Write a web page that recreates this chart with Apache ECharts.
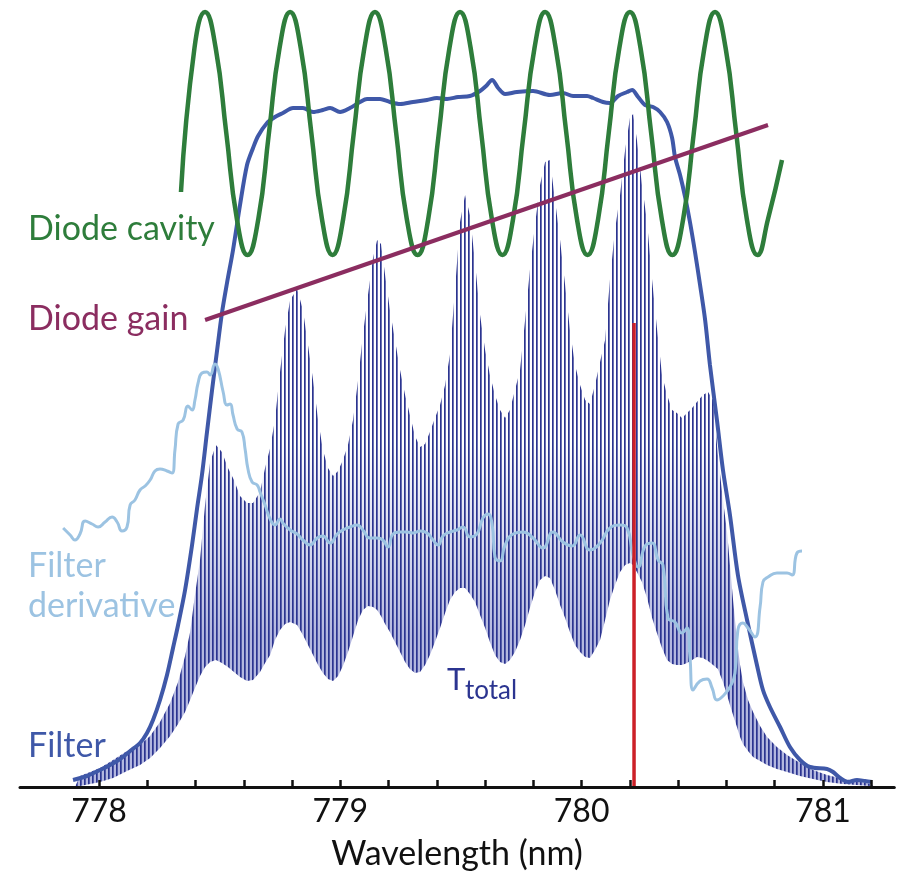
<!DOCTYPE html>
<html>
<head>
<meta charset="utf-8">
<title>Filter transmission vs wavelength</title>
<script src="https://cdn.jsdelivr.net/npm/echarts@6.0.0/dist/echarts.min.js"></script>
<style>
  html, body { margin: 0; padding: 0; background: #fff; }
  #chart { width: 905px; height: 884px; }
</style>
</head>
<body>
<div id="chart"></div>
<script>
// wavelength in nm, heights in arbitrary units above the axis

// T_total fringes: peak envelope and trough envelope
const ttWave = [777.900, 777.921, 777.963, 778.004, 778.058, 778.116, 778.170, 778.212, 778.253, 778.295,
  778.328, 778.357, 778.378, 778.398, 778.419, 778.440, 778.461, 778.485, 778.510, 778.535,
  778.560, 778.585, 778.614, 778.639, 778.668, 778.689, 778.710, 778.730, 778.751, 778.772,
  778.793, 778.822, 778.846, 778.867, 778.888, 778.909, 778.929, 778.950, 778.971, 778.992,
  779.012, 779.033, 779.054, 779.075, 779.095, 779.116, 779.137, 779.154, 779.170, 779.187,
  779.207, 779.228, 779.249, 779.270, 779.290, 779.311, 779.332, 779.353, 779.373, 779.394,
  779.415, 779.436, 779.456, 779.477, 779.498, 779.519, 779.539, 779.560, 779.581, 779.602,
  779.622, 779.643, 779.664, 779.685, 779.705, 779.726, 779.747, 779.768, 779.788, 779.809,
  779.830, 779.851, 779.871, 779.892, 779.913, 779.934, 779.954, 779.975, 779.996, 780.017,
  780.037, 780.058, 780.079, 780.100, 780.120, 780.141, 780.162, 780.183, 780.203, 780.216,
  780.232, 780.253, 780.274, 780.295, 780.315, 780.336, 780.357, 780.378, 780.398, 780.419,
  780.440, 780.461, 780.481, 780.506, 780.527, 780.548, 780.568, 780.589, 780.606, 780.618,
  780.631, 780.647, 780.660, 780.672, 780.693, 780.714, 780.743, 780.772, 780.813, 780.855,
  780.909, 780.963, 781.021, 781.087, 781.145, 781.199, 781.220];
const ttUpper = [0, 11, 15, 19, 27, 36, 42, 51, 65, 84,
  105, 131, 155, 192, 227, 282, 325, 342, 335, 319,
  307, 291, 284, 284, 295, 319, 339, 367, 415, 457,
  487, 498, 477, 442, 407, 367, 337, 319, 311, 316,
  327, 342, 367, 407, 452, 492, 529, 547, 543, 512,
  477, 447, 417, 392, 372, 351, 340, 343, 355, 369,
  382, 402, 432, 497, 565, 592, 572, 525, 472, 437,
  412, 392, 377, 369, 377, 397, 417, 467, 517, 562,
  602, 625, 627, 587, 547, 502, 457, 422, 402, 387,
  383, 402, 425, 447, 507, 557, 592, 637, 669, 673,
  647, 602, 565, 507, 459, 412, 392, 377, 374, 369,
  374, 379, 385, 392, 395, 387, 332, 287, 255, 222,
  187, 147, 122, 105, 87, 75, 61, 50, 40, 32,
  24, 17, 12, 8, 6, 3, 0];
const ttLower = [0, 1, 3, 5, 9, 16, 22, 29, 39, 51,
  63, 75, 87, 99, 111, 120, 125, 127, 124, 120,
  115, 110, 106, 107, 115, 124, 132, 147, 157, 163,
  165, 162, 152, 142, 132, 122, 114, 108, 106, 111,
  121, 135, 151, 167, 177, 181, 180, 177, 171, 163,
  155, 145, 135, 125, 118, 114, 115, 122, 132, 145,
  159, 174, 187, 195, 199, 199, 193, 185, 172, 159,
  145, 132, 125, 123, 127, 135, 147, 162, 179, 195,
  207, 211, 209, 197, 182, 169, 155, 142, 135, 130,
  129, 137, 147, 167, 187, 202, 215, 222, 224, 222,
  215, 205, 189, 169, 154, 139, 127, 123, 122, 122,
  124, 127, 130, 129, 126, 122, 118, 105, 92, 82,
  72, 60, 50, 43, 36, 30, 26, 22, 18, 15,
  11, 8, 5, 3, 2, 1, 0];

// Filter transmission
const filterWave = [777.892, 777.950, 778.004, 778.046, 778.087, 778.129, 778.170, 778.199, 778.224, 778.253,
  778.282, 778.307, 778.328, 778.357, 778.386, 778.407, 778.427, 778.448, 778.469, 778.490,
  778.510, 778.531, 778.556, 778.585, 778.614, 778.639, 778.660, 778.697, 778.730, 778.763,
  778.805, 778.846, 778.888, 778.929, 778.959, 779.000, 779.041, 779.083, 779.112, 779.166,
  779.207, 779.249, 779.303, 779.361, 779.402, 779.444, 779.490, 779.539, 779.581, 779.606,
  779.631, 779.656, 779.685, 779.734, 779.801, 779.871, 779.925, 779.967, 780.025, 780.050,
  780.091, 780.120, 780.154, 780.191, 780.212, 780.237, 780.266, 780.299, 780.328, 780.357,
  780.378, 780.390, 780.411, 780.432, 780.452, 780.473, 780.494, 780.515, 780.535, 780.564,
  780.589, 780.618, 780.651, 780.689, 780.730, 780.755, 780.784, 780.826, 780.867, 780.909,
  780.950, 781.021, 781.046, 781.075, 781.108, 781.145, 781.178, 781.207];
const filterVal = [7, 11, 17, 22, 28, 36, 44, 54, 67, 87,
  112, 139, 162, 197, 242, 279, 312, 355, 397, 437,
  474, 504, 537, 582, 622, 639, 651, 664, 670, 674,
  679, 679, 675, 677, 679, 675, 679, 685, 688, 688,
  685, 683, 685, 687, 689, 688, 690, 691, 696, 701,
  707, 699, 693, 695, 696, 692, 694, 691, 691, 689,
  685, 684, 691, 695, 697, 690, 682, 680, 675, 665,
  649, 630, 612, 590, 565, 535, 502, 467, 422, 367,
  317, 272, 212, 167, 122, 97, 80, 60, 40, 27,
  20, 18, 15, 9, 5, 7, 6, 5];

// Filter derivative
const derivWave = [777.851, 777.880, 777.900, 777.921, 777.942, 777.971, 777.996, 778.025, 778.054, 778.075,
  778.095, 778.116, 778.129, 778.149, 778.170, 778.191, 778.212, 778.232, 778.253, 778.282,
  778.303, 778.315, 778.328, 778.349, 778.369, 778.386, 778.398, 778.411, 778.427, 778.448,
  778.461, 778.481, 778.494, 778.515, 778.531, 778.544, 778.556, 778.573, 778.593, 778.606,
  778.618, 778.635, 778.656, 778.668, 778.689, 778.710, 778.730, 778.751, 778.763, 778.793,
  778.822, 778.846, 778.876, 778.905, 778.929, 778.959, 778.988, 779.012, 779.041, 779.071,
  779.095, 779.124, 779.154, 779.178, 779.199, 779.220, 779.249, 779.278, 779.303, 779.332,
  779.361, 779.386, 779.407, 779.427, 779.456, 779.485, 779.510, 779.539, 779.568, 779.593,
  779.614, 779.631, 779.643, 779.664, 779.685, 779.718, 779.759, 779.801, 779.842, 779.884,
  779.925, 779.963, 779.996, 780.037, 780.079, 780.120, 780.162, 780.191, 780.216, 780.237,
  780.266, 780.295, 780.320, 780.340, 780.361, 780.390, 780.419, 780.440, 780.452, 780.465,
  780.494, 780.523, 780.544, 780.564, 780.585, 780.618, 780.639, 780.651, 780.672, 780.693,
  780.722, 780.743, 780.755, 780.776, 780.813, 780.855, 780.876, 780.896, 780.917];
const derivVal = [259, 252, 247, 253, 266, 263, 260, 265, 270, 265,
  256, 260, 282, 287, 297, 301, 307, 316, 318, 316,
  314, 337, 363, 367, 381, 377, 387, 404, 414, 415,
  412, 423, 418, 395, 382, 383, 372, 358, 355, 338,
  318, 305, 302, 295, 282, 268, 262, 268, 264, 257,
  253, 247, 242, 249, 251, 244, 253, 257, 260, 262,
  257, 249, 249, 247, 240, 253, 255, 255, 254, 256,
  254, 247, 242, 251, 255, 257, 260, 250, 253, 269,
  273, 263, 230, 226, 242, 253, 255, 249, 239, 255,
  245, 241, 252, 237, 244, 259, 262, 259, 232, 220,
  241, 244, 227, 222, 169, 165, 154, 159, 130, 97,
  106, 108, 99, 87, 90, 100, 114, 157, 164, 159,
  150, 180, 205, 210, 214, 214, 212, 234, 236];

// Diode cavity modes
const cavityWave = [778.340, 778.396, 778.440, 778.484, 778.528, 778.572, 778.616, 778.661, 778.705, 778.749,
  778.793, 778.837, 778.881, 778.925, 778.969, 779.013, 779.057, 779.101, 779.145, 779.189,
  779.233, 779.277, 779.322, 779.366, 779.410, 779.454, 779.498, 779.542, 779.586, 779.630,
  779.674, 779.718, 779.762, 779.807, 779.851, 779.895, 779.939, 779.983, 780.027, 780.071,
  780.115, 780.159, 780.203, 780.247, 780.291, 780.335, 780.379, 780.424, 780.468, 780.512,
  780.556, 780.600, 780.644, 780.688, 780.732, 780.776, 780.834];
const cavityVal = [595, 739, 775, 739, 654, 568, 532, 568, 654, 739,
  775, 739, 654, 568, 532, 568, 654, 739, 775, 739,
  654, 568, 532, 568, 654, 739, 775, 739, 654, 568,
  532, 568, 654, 739, 775, 739, 654, 568, 532, 568,
  654, 739, 775, 739, 654, 568, 532, 568, 654, 739,
  775, 739, 654, 568, 532, 568, 627];

// Diode gain
const gainWave = [778.440, 780.776];
const gainVal = [467, 662];

// lasing wavelength marker
const markerWave = 780.220;
const markerTop = 464;

const tickLabels = [778, 779, 780, 781];

const FONT = 'Lato, "Open Sans", sans-serif';
const pairs = (xs, ys) => xs.map((x, i) => [x, ys[i]]);

// thin vertical fringe lines used to fill T_total
function fringeFill() {
  const c = document.createElement('canvas');
  c.width = 4; c.height = 884;
  const g = c.getContext('2d');
  const grad = g.createLinearGradient(0, 0, 0, 884);
  grad.addColorStop(0, '#ffffff');
  grad.addColorStop(0.5, '#ffffff');
  grad.addColorStop(0.72, '#b3b7df');
  grad.addColorStop(1, '#b3b7df');
  g.fillStyle = grad;
  g.fillRect(0, 0, 4, 884);
  g.fillStyle = '#2b3490';
  g.fillRect(0, 0, 1.7, 884);
  return c;
}

const chart = echarts.init(document.getElementById('chart'));

const option = {
  animation: false,
  backgroundColor: '#fff',
  grid: [
    { left: 20, right: 10.7, top: 0, bottom: 97 },
    { left: 99, right: 33.8, top: 0, bottom: 97 }
  ],
  xAxis: [
    {
      type: 'value', gridIndex: 0, min: 777.672, max: 781.3, z: 10,
      axisLine: { onZero: false, lineStyle: { color: '#111', width: 3 } },
      axisTick: { show: false }, axisLabel: { show: false }, splitLine: { show: false },
      name: 'Wavelength (nm)', nameLocation: 'middle', nameGap: 50,
      nameTextStyle: { color: '#111', fontSize: 34, fontFamily: FONT }
    },
    {
      type: 'value', gridIndex: 1, min: 778, max: 781.2, interval: 0.2, z: 10,
      axisLine: { show: false, onZero: false },
      axisTick: { inside: true, length: 7, lineStyle: { color: '#111', width: 2.5 } },
      axisLabel: {
        margin: 9, color: '#111', fontSize: 32, fontFamily: FONT,
        formatter: v => tickLabels.includes(Math.round(v * 1000) / 1000) ? String(Math.round(v)) : ''
      },
      splitLine: { show: false }
    }
  ],
  yAxis: [
    { type: 'value', gridIndex: 0, min: 0, max: 787, show: false },
    { type: 'value', gridIndex: 1, min: 0, max: 787, show: false }
  ],
  series: [
    {
      // fringe peaks: striped area down to the axis
      type: 'line', data: pairs(ttWave, ttUpper), symbol: 'none', silent: true, z: 1,
      lineStyle: { opacity: 0 },
      areaStyle: { color: { image: fringeFill(), repeat: 'repeat' }, opacity: 1 }
    },
    {
      // fringe troughs: blank area below them
      type: 'line', data: pairs(ttWave, ttLower), symbol: 'none', silent: true, z: 2,
      lineStyle: { opacity: 0 },
      areaStyle: { color: '#ffffff', opacity: 1 }
    },
    {
      type: 'line', data: pairs(filterWave, filterVal), smooth: 0.3, symbol: 'none',
      lineStyle: { color: '#3f58a8', width: 4 }, z: 3
    },
    {
      type: 'line', data: pairs(derivWave, derivVal), smooth: 0.5, symbol: 'none',
      lineStyle: { color: '#9cc3e2', width: 3 }, z: 4
    },
    {
      type: 'line', data: [[markerWave, 0], [markerWave, markerTop]], symbol: 'none',
      lineStyle: { color: '#cc2027', width: 3.5 }, z: 5
    },
    {
      type: 'line', data: pairs(cavityWave, cavityVal), smooth: 0.5, symbol: 'none',
      lineStyle: { color: '#2e7d3b', width: 4.5 }, z: 6
    },
    {
      type: 'line', data: pairs(gainWave, gainVal), symbol: 'none',
      lineStyle: { color: '#8b2d60', width: 4 }, z: 6
    }
  ],
  graphic: [
    { type: 'text', x: 28, y: 229, z: 100, style: { text: 'Diode cavity', fill: '#2e7d3b', font: '34px ' + FONT, verticalAlign: 'middle' } },
    { type: 'text', x: 28, y: 319, z: 100, style: { text: 'Diode gain', fill: '#8b2d60', font: '34px ' + FONT, verticalAlign: 'middle' } },
    { type: 'text', x: 28, y: 566, z: 100, style: { text: 'Filter', fill: '#9cc3e2', font: '34px ' + FONT, verticalAlign: 'middle' } },
    { type: 'text', x: 28, y: 606, z: 100, style: { text: 'derivative', fill: '#9cc3e2', font: '34px ' + FONT, verticalAlign: 'middle' } },
    { type: 'text', x: 28, y: 746, z: 100, style: { text: 'Filter', fill: '#3f58a8', font: '34px ' + FONT, verticalAlign: 'middle' } },
    { type: 'text', x: 447, y: 680, z: 100, style: { text: 'T', fill: '#2b3490', font: '31px ' + FONT, verticalAlign: 'middle' } },
    { type: 'text', x: 465, y: 691, z: 100, style: { text: 'total', fill: '#2b3490', font: '26px ' + FONT, verticalAlign: 'middle' } }
  ]
};

chart.setOption(option);
</script>
</body>
</html>
